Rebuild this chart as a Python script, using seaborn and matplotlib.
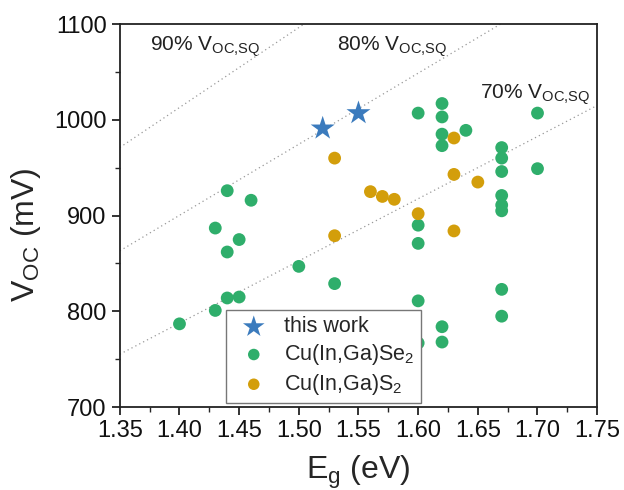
import numpy as np
import pandas as pd
import matplotlib
matplotlib.use("Agg")
import matplotlib.pyplot as plt
from matplotlib.ticker import MultipleLocator
import seaborn as sns

# this work
eg_this = [1.52, 1.55]
voc_this = [991, 1007]

# Cu(In,Ga)Se2 literature
eg_cigse = [1.40, 1.43, 1.44, 1.45, 1.50, 1.53, 1.43, 1.44, 1.45, 1.44, 1.46,
            1.60, 1.62, 1.62, 1.62, 1.62, 1.64, 1.60, 1.60, 1.70, 1.70,
            1.67, 1.67, 1.67, 1.67, 1.67, 1.67, 1.60, 1.60, 1.62, 1.62, 1.67, 1.67]
voc_cigse = [787, 801, 814, 815, 847, 829, 887, 862, 875, 926, 916,
             1007, 1017, 1003, 985, 973, 989, 890, 871, 1007, 949,
             971, 960, 946, 921, 911, 905, 811, 767, 784, 768, 823, 795]

# Cu(In,Ga)S2 literature
eg_cigs = [1.53, 1.53, 1.56, 1.57, 1.58, 1.60, 1.63, 1.63, 1.63, 1.65]
voc_cigs = [960, 879, 925, 920, 917, 902, 981, 943, 884, 935]

# SQ limit Voc vs Eg (approx, mV) and the fractions drawn
sq_eg = [1.35, 1.75]
sq_voc = [1079, 1450]
sq_frac = [0.9, 0.8, 0.7]
sq_labels = ["90% V$_\\mathregular{OC{,}SQ}$", "80% V$_\\mathregular{OC{,}SQ}$", "70% V$_\\mathregular{OC{,}SQ}$"]
sq_label_pos = [(1.375, 1072), (1.532, 1072), (1.652, 1022)]

df = pd.concat([
    pd.DataFrame({"Eg": eg_this, "Voc": voc_this, "group": "this work"}),
    pd.DataFrame({"Eg": eg_cigse, "Voc": voc_cigse, "group": "Cu(In,Ga)Se$_2$"}),
    pd.DataFrame({"Eg": eg_cigs, "Voc": voc_cigs, "group": "Cu(In,Ga)S$_2$"}),
])

sns.set_style("ticks")
plt.rcParams["font.family"] = ["Liberation Sans", "DejaVu Sans"]
plt.rcParams["mathtext.fontset"] = "custom"
plt.rcParams["mathtext.rm"] = "Liberation Sans"

colors = {"this work": "#3b7bbd", "Cu(In,Ga)Se$_2$": "#2fae6b", "Cu(In,Ga)S$_2$": "#d39e0b"}

fig = plt.figure(figsize=(6.24, 4.90), dpi=100)
ax = fig.add_axes([0.192, 0.169, 0.765, 0.782])

for frac in sq_frac:
    ax.plot(sq_eg, [v * frac for v in sq_voc], ls=(0, (1, 2.5)), color="#999999", lw=0.9, zorder=1)
for lab, (x, y) in zip(sq_labels, sq_label_pos):
    ax.text(x, y, lab, fontsize=15, color="#222222")

sns.scatterplot(data=df[df.group == "this work"], x="Eg", y="Voc", marker="*", s=330,
                color=colors["this work"], edgecolor="none", label="this work", ax=ax, zorder=3)
sns.scatterplot(data=df[df.group == "Cu(In,Ga)Se$_2$"], x="Eg", y="Voc", marker="o", s=85,
                color=colors["Cu(In,Ga)Se$_2$"], edgecolor="none", label="Cu(In,Ga)Se$_2$", ax=ax, zorder=3)
sns.scatterplot(data=df[df.group == "Cu(In,Ga)S$_2$"], x="Eg", y="Voc", marker="o", s=85,
                color=colors["Cu(In,Ga)S$_2$"], edgecolor="none", label="Cu(In,Ga)S$_2$", ax=ax, zorder=3)

ax.set_xlim(1.35, 1.75)
ax.set_ylim(700, 1100)
ax.xaxis.set_major_locator(MultipleLocator(0.05))
ax.xaxis.set_minor_locator(MultipleLocator(0.025))
ax.yaxis.set_major_locator(MultipleLocator(100))
ax.yaxis.set_minor_locator(MultipleLocator(50))
ax.set_xticklabels([f"{t:.2f}" for t in ax.get_xticks()])
ax.tick_params(which="major", direction="out", length=6, width=1.2, labelsize=17, colors="#111111")
ax.tick_params(which="minor", direction="out", length=3.5, width=1.0)
for sp in ax.spines.values():
    sp.set_linewidth(1.3)
    sp.set_color("#222222")

ax.set_xlabel("E$_\\mathregular{g}$ (eV)", fontsize=23, labelpad=8)
ax.set_ylabel("V$_\\mathregular{OC}$ (mV)", fontsize=23)
ax.yaxis.set_label_coords(-0.16, 0.45)

leg = ax.legend(loc="lower left", bbox_to_anchor=(0.222, 0.01), borderaxespad=0, fontsize=15.5,
                frameon=True, fancybox=False, edgecolor="#777777", framealpha=1, handletextpad=0.4,
                borderpad=0.3, labelspacing=0.22, markerscale=0.9)
leg.get_frame().set_linewidth(1.0)

fig.savefig("out.png", dpi=100)
